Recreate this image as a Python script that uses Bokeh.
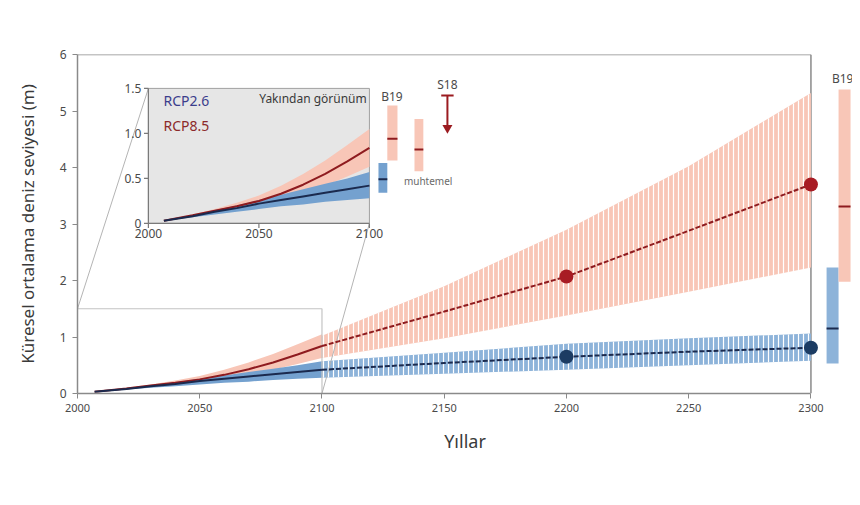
from bokeh.plotting import figure
from bokeh.models import Range1d, FixedTicker
from bokeh.core.properties import value
from bokeh.embed import file_html
from bokeh.resources import INLINE

FONT = "Noto Sans"

# ---------------- data ----------------
years_hist = [2007, 2020, 2030, 2040, 2050, 2060, 2070, 2080, 2090, 2100]
rcp85_med_hist = [0.03, 0.09, 0.14, 0.19, 0.25, 0.33, 0.43, 0.55, 0.69, 0.84]
rcp85_hi_hist = [0.03, 0.10, 0.16, 0.23, 0.31, 0.42, 0.55, 0.70, 0.87, 1.05]
rcp85_lo_hist = [0.03, 0.08, 0.12, 0.16, 0.20, 0.26, 0.33, 0.42, 0.52, 0.63]
rcp26_med_hist = [0.03, 0.08, 0.13, 0.17, 0.22, 0.26, 0.30, 0.34, 0.38, 0.42]
rcp26_hi_hist = [0.03, 0.09, 0.15, 0.20, 0.26, 0.32, 0.38, 0.44, 0.50, 0.57]
rcp26_lo_hist = [0.03, 0.07, 0.10, 0.13, 0.16, 0.19, 0.21, 0.24, 0.26, 0.28]

years_ext = [2100, 2150, 2200, 2250, 2300]
rcp85_med_ext = [0.84, 1.45, 2.07, 2.88, 3.70]
rcp85_hi_ext = [1.02, 1.90, 2.90, 4.02, 5.32]
rcp85_lo_ext = [0.63, 0.98, 1.38, 1.80, 2.23]
rcp26_med_ext = [0.42, 0.54, 0.65, 0.74, 0.81]
rcp26_hi_ext = [0.57, 0.72, 0.88, 0.98, 1.06]
rcp26_lo_ext = [0.28, 0.35, 0.42, 0.50, 0.58]

dot_years = [2200, 2300]
rcp85_dots = [2.07, 3.70]
rcp26_dots = [0.65, 0.81]

# B19 expert judgement at 2300 (RCP2.6, RCP8.5)
b19_2300_lo = [0.53, 1.98]
b19_2300_hi = [2.23, 5.38]
b19_2300_med = [1.15, 3.31]

# B19 at 2100 (RCP2.6, RCP8.5) and the "likely" range
b19_2100_lo = [0.34, 0.70]
b19_2100_hi = [0.67, 1.31]
b19_2100_med = [0.49, 0.94]
likely_lo = [0.58]
likely_hi = [1.16]
likely_med = [0.82]
s18_top = 1.42
s18_tip = 1.01

x_ticks = [2000, 2050, 2100, 2150, 2200, 2250, 2300]
y_ticks = [0, 1, 2, 3, 4, 5, 6]
inset_x_ticks = [2000, 2050, 2100]
inset_y_ticks = [0, 0.5, 1.0, 1.5]
inset_y_labels = ["0", "0.5", "1.0", "1.5"]

# ---------------- colours ----------------
RED_BAND = "#f8c6b7"
RED_LINE = "#8e1b1f"
RED_DOT = "#a81c24"
BLUE_BAND_H = "#74a1cf"
BLUE_BAND = "#8db3d9"
BLUE_LINE = "#1b2a4e"
BLUE_DOT = "#1c3c63"
AXIS = "#8a8a8a"
TXT = "#3a3a3a"

# ---------------- figure ----------------
p = figure(width=852, height=480, output_backend="svg", toolbar_location=None,
           x_range=Range1d(2000, 2317), y_range=Range1d(0, 6),
           min_border_left=77, min_border_right=0, min_border_top=54,
           min_border_bottom=87)
p.outline_line_color = None
p.xgrid.visible = False
p.ygrid.visible = False
p.background_fill_color = "white"
p.border_fill_color = "white"

for ax in (p.xaxis, p.yaxis):
    ax.axis_line_color = AXIS
    ax.axis_line_width = 1.5
    ax.major_tick_line_color = AXIS
    ax.major_tick_out = 5
    ax.major_tick_in = 0
    ax.minor_tick_line_color = None
    ax.major_label_text_font = FONT
    ax.major_label_text_color = "#4a4a4a"
    ax.axis_label_text_font = FONT
    ax.axis_label_text_font_style = "normal"
    ax.axis_label_text_color = TXT

p.xaxis.ticker = FixedTicker(ticks=x_ticks)
p.xaxis.bounds = (2000, 2300)
p.xaxis.major_label_text_font_size = "11px"
p.xaxis.major_label_standoff = 5
p.xaxis.axis_label = "Yıllar"
p.xaxis.axis_label_text_font_size = "18px"
p.xaxis.axis_label_standoff = 14

p.yaxis.ticker = FixedTicker(ticks=y_ticks)
p.yaxis.bounds = (0, 6)
p.yaxis.major_label_text_font_size = "12px"
p.yaxis.major_label_standoff = 6
p.yaxis.axis_label = "Küresel ortalama deniz seviyesi (m)"
p.yaxis.axis_label_text_font_size = "17px"
p.yaxis.axis_label_standoff = 18

# frame top / right lines
p.segment(x0=[2000, 2300], y0=[6, 0], x1=[2300, 2300], y1=[6, 6],
          line_color=AXIS, line_width=1.5)

# bands up to 2100 (solid)
p.varea(x=years_hist, y1=rcp85_lo_hist, y2=rcp85_hi_hist, fill_color=RED_BAND)
p.varea(x=years_hist, y1=rcp26_lo_hist, y2=rcp26_hi_hist, fill_color=BLUE_BAND_H)

# bands after 2100 (striped)
p.varea(x=years_ext, y1=rcp85_lo_ext, y2=rcp85_hi_ext, fill_color=RED_BAND,
        hatch_pattern="vertical_line", hatch_color="white", hatch_weight=1.2,
        hatch_scale=5)
p.varea(x=years_ext, y1=rcp26_lo_ext, y2=rcp26_hi_ext, fill_color=BLUE_BAND,
        hatch_pattern="vertical_line", hatch_color="white", hatch_weight=1.2,
        hatch_scale=5)

# inset geometry (layout)
IN_SRC_X = (2000, 2100)
IN_SRC_Y = (0, 1.5)
IN_TGT_X = (2029.0, 2119.4)
IN_TGT_Y = (3.01, 5.40)

# zoom box + connectors
p.line(x=[IN_SRC_X[0], IN_SRC_X[1], IN_SRC_X[1]], y=[IN_SRC_Y[1], IN_SRC_Y[1], IN_SRC_Y[0]],
       line_color="#c4c4c4", line_width=1.2)
p.segment(x0=[IN_SRC_X[0], IN_SRC_X[1]], y0=[IN_SRC_Y[1], IN_SRC_Y[0]],
          x1=[IN_TGT_X[0], IN_TGT_X[1]], y1=[IN_TGT_Y[1], IN_TGT_Y[0]],
          line_color="#b4b4b4", line_width=1)

# medians
p.line(x=years_hist, y=rcp85_med_hist, line_color=RED_LINE, line_width=2)
p.line(x=years_hist, y=rcp26_med_hist, line_color=BLUE_LINE, line_width=2)
p.line(x=years_ext, y=rcp85_med_ext, line_color=RED_LINE, line_width=2, line_dash="5 2")
p.line(x=years_ext, y=rcp26_med_ext, line_color=BLUE_LINE, line_width=2, line_dash="5 2")
p.scatter(x=dot_years, y=rcp85_dots, size=14, fill_color=RED_DOT, line_color=None)
p.scatter(x=dot_years, y=rcp26_dots, size=14, fill_color=BLUE_DOT, line_color=None)

# B19 at 2300 (right of frame line)
B19_X0 = [2306.4, 2311.3]
B19_X1 = [2311.3, 2316.2]
p.quad(left=B19_X0, right=B19_X1, bottom=b19_2300_lo, top=b19_2300_hi,
       fill_color=[BLUE_BAND, RED_BAND], line_color=None)
p.segment(x0=B19_X0, x1=B19_X1, y0=b19_2300_med, y1=b19_2300_med,
          line_color=[BLUE_LINE, RED_LINE], line_width=2)
p.text(x=[2313.0], y=[5.58], text=["B19"], text_font=value(FONT), text_font_size="12px",
       text_color="#4a4a4a", text_align="center", text_baseline="middle")

# ---------------- inset ----------------
ins = p.subplot(x_source=Range1d(*IN_SRC_X), y_source=Range1d(*IN_SRC_Y),
                x_target=Range1d(*IN_TGT_X), y_target=Range1d(*IN_TGT_Y))
ins.quad(left=[IN_SRC_X[0]], right=[IN_SRC_X[1]], bottom=[IN_SRC_Y[0]], top=[IN_SRC_Y[1]],
         fill_color="#e6e6e6", line_color="#a0a0a0", line_width=1)
ins.varea(x=years_hist, y1=rcp85_lo_hist, y2=rcp85_hi_hist, fill_color=RED_BAND)
ins.varea(x=years_hist, y1=rcp26_lo_hist, y2=rcp26_hi_hist, fill_color=BLUE_BAND_H)
ins.line(x=years_hist, y=rcp85_med_hist, line_color=RED_LINE, line_width=2)
ins.line(x=years_hist, y=rcp26_med_hist, line_color=BLUE_LINE, line_width=2)

# inset axes
ins.segment(x0=[IN_SRC_X[0], IN_SRC_X[0]], y0=[IN_SRC_Y[0], IN_SRC_Y[0]],
            x1=[IN_SRC_X[0], IN_SRC_X[1]], y1=[IN_SRC_Y[1], IN_SRC_Y[0]],
            line_color="#7a7a7a", line_width=1.2)
TICK_X = 2.0
TICK_Y = 0.05
ins.segment(x0=[IN_SRC_X[0]] * len(inset_y_ticks), x1=[IN_SRC_X[0] - TICK_X] * len(inset_y_ticks),
            y0=inset_y_ticks, y1=inset_y_ticks, line_color="#7a7a7a", line_width=1.2)
ins.segment(x0=inset_x_ticks, x1=inset_x_ticks, y0=[IN_SRC_Y[0]] * 3,
            y1=[IN_SRC_Y[0] - TICK_Y] * 3, line_color="#7a7a7a", line_width=1.2)
ins.text(x=[IN_SRC_X[0]] * len(inset_y_ticks), y=inset_y_ticks, text=inset_y_labels,
         text_font=value(FONT), text_font_size="12px", text_color="#4a4a4a",
         text_align="right", text_baseline="middle", x_offset=-7)
ins.text(x=inset_x_ticks, y=[IN_SRC_Y[0]] * 3, text=[str(t) for t in inset_x_ticks],
         text_font=value(FONT), text_font_size="12px", text_color="#4a4a4a",
         text_align="center", text_baseline="top", y_offset=6)

ins.text(x=[2006.8], y=[1.37], text=["RCP2.6"], text_font=value(FONT), text_font_size="14px",
         text_color="#3b3d8c", text_baseline="middle")
ins.text(x=[2006.8], y=[1.09], text=["RCP8.5"], text_font=value(FONT), text_font_size="14px",
         text_color="#8c2a2a", text_baseline="middle")
ins.text(x=[2098.8], y=[1.39], text=["Yakından görünüm"], text_font=value(FONT),
         text_font_size="12px", text_color=TXT, text_align="right", text_baseline="middle")

# B19 at 2100, likely range, S18
B21_X0 = [2104.1, 2108.1]
B21_X1 = [2108.1, 2112.7]
ins.quad(left=B21_X0, right=B21_X1, bottom=b19_2100_lo, top=b19_2100_hi,
         fill_color=[BLUE_BAND_H, RED_BAND], line_color=None)
ins.segment(x0=B21_X0, x1=B21_X1, y0=b19_2100_med, y1=b19_2100_med,
            line_color=[BLUE_LINE, RED_LINE], line_width=2)
LK_X0 = [2120.4]
LK_X1 = [2124.4]
ins.quad(left=LK_X0, right=LK_X1, bottom=likely_lo, top=likely_hi,
         fill_color=RED_BAND, line_color=None)
ins.segment(x0=LK_X0, x1=LK_X1, y0=likely_med, y1=likely_med,
            line_color=RED_LINE, line_width=2)
ins.text(x=[2110.2], y=[1.41], text=["B19"], text_font=value(FONT), text_font_size="12px",
         text_color="#4a4a4a", text_align="center", text_baseline="middle")
ins.text(x=[2115.6], y=[0.47], text=["muhtemel"], text_font=value(FONT), text_font_size="10px",
         text_color="#6a6a6a", text_align="left", text_baseline="middle")
S18_X = 2135.3
ins.segment(x0=[S18_X - 2.8, S18_X], x1=[S18_X + 2.8, S18_X], y0=[s18_top, s18_top],
            y1=[s18_top, s18_tip + 0.06], line_color="#9b1b20", line_width=2)
ins.scatter(x=[S18_X], y=[s18_tip + 0.05], marker="triangle", angle=3.14159, size=10,
            fill_color="#9b1b20", line_color=None)
ins.text(x=[S18_X], y=[1.54], text=["S18"], text_font=value(FONT), text_font_size="12px",
         text_color="#4a4a4a", text_align="center", text_baseline="middle")

open("out.html", "w").write(file_html(p, INLINE))
